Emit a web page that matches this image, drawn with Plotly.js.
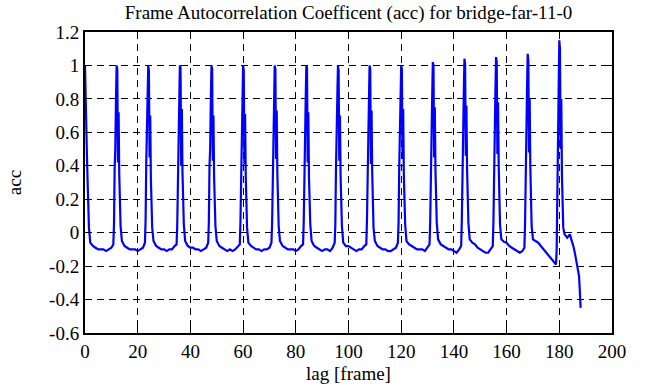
<!DOCTYPE html>
<html>
<head>
<meta charset="utf-8">
<script src="https://cdn.plot.ly/plotly-3.0.1.min.js"></script>
<style>html,body{margin:0;padding:0;background:#fff;}#chart{width:651px;height:387px;}</style>
</head>
<body>
<div id="chart"></div>
<script>
// lag [frame]
var lag = [
  0,0.25,0.5,0.75,1,1.25,1.5,2,3,4,5,6,7,8,9,10,
  10.75,11,11.25,11.5,11.75,12,12.25,12.5,12.75,13,13.5,14,15,16,17,18,19,20,21,22,
  22.75,23,23.25,23.5,23.75,24,24.25,24.5,24.75,25,25.5,26,27,28,29,30,31,32,33,34,
  34.75,35,35.25,35.5,35.75,36,36.25,36.5,36.75,37,37.5,38,39,40,41,42,43,44,45,46,
  46.75,47,47.25,47.5,47.75,48,48.25,48.5,48.75,49,49.5,50,51,52,53,54,55,56,57,58,
  58.75,59,59.25,59.5,59.75,60,60.25,60.5,60.75,61,61.5,62,63,64,65,66,67,68,69,70,
  70.75,71,71.25,71.5,71.75,72,72.25,72.5,72.75,73,73.5,74,75,76,77,78,79,80,81,82,
  82.75,83,83.25,83.5,83.75,84,84.25,84.5,84.75,85,85.5,86,87,88,89,90,91,92,93,94,
  94.75,95,95.25,95.5,95.75,96,96.25,96.5,96.75,97,97.5,98,99,100,101,102,103,104,105,106,
  106.75,107,107.25,107.5,107.75,108,108.25,108.5,108.75,109,109.5,110,111,112,113,114,115,116,117,118,
  118.75,119,119.25,119.5,119.75,120,120.25,120.5,120.75,121,121.5,122,123,124,125,126,127,128,129,130,
  130.75,131,131.25,131.5,131.75,132,132.25,132.5,132.75,133,133.5,134,135,136,137,138,139,140,141,142,
  142.75,143,143.25,143.5,143.75,144,144.25,144.5,144.75,145,145.5,146,147,148,149,150,151,152,153,154,
  154.75,155,155.25,155.5,155.75,156,156.25,156.5,156.75,157,157.5,158,159,160,161,162,163,164,165,166,
  166.75,167,167.25,167.5,167.75,168,168.25,168.5,168.75,169,169.5,170,171,172,173,174,175,176,177,178,
  178.75,179,179.25,179.5,179.75,180,180.25,180.5,180.75,181,181.5,182,183,184,185,185.5,186,186.5,187,187.5,187.8,188.1
];
// autocorrelation coefficient
var acc = [
  1.0,0.75,0.6,0.45,0.3,0.15,0.03,-0.06,-0.08,-0.09,-0.1,-0.1,-0.1,-0.11,-0.1,-0.09,
  -0.07,0.05,0.38,0.5,0.78,1.0,0.98,0.42,0.72,0.35,0.04,-0.05,-0.08,-0.09,-0.1,-0.1,-0.1,-0.11,-0.1,-0.09,
  -0.06,0.08,0.42,0.55,0.8,1.0,0.97,0.45,0.7,0.32,0.03,-0.05,-0.08,-0.09,-0.1,-0.1,-0.11,-0.1,-0.1,-0.08,
  -0.07,0.04,0.36,0.52,0.76,1.0,0.99,0.4,0.74,0.36,0.05,-0.05,-0.08,-0.09,-0.09,-0.1,-0.1,-0.11,-0.1,-0.09,
  -0.06,0.06,0.4,0.5,0.79,1.0,0.98,0.43,0.7,0.33,0.04,-0.05,-0.08,-0.09,-0.1,-0.11,-0.1,-0.11,-0.1,-0.08,
  -0.07,0.07,0.39,0.53,0.8,1.0,0.97,0.41,0.71,0.34,0.03,-0.06,-0.08,-0.09,-0.1,-0.1,-0.11,-0.1,-0.1,-0.09,
  -0.06,0.05,0.37,0.51,0.77,1.0,0.98,0.44,0.73,0.35,0.04,-0.05,-0.08,-0.09,-0.1,-0.1,-0.1,-0.11,-0.1,-0.08,
  -0.07,0.06,0.41,0.54,0.79,1.0,0.99,0.42,0.72,0.33,0.05,-0.05,-0.08,-0.09,-0.1,-0.11,-0.1,-0.1,-0.11,-0.09,
  -0.06,0.05,0.38,0.52,0.8,1.0,0.97,0.43,0.7,0.34,0.04,-0.06,-0.08,-0.08,-0.09,-0.1,-0.11,-0.1,-0.1,-0.08,
  -0.07,0.07,0.4,0.5,0.78,1.0,0.98,0.41,0.73,0.36,0.03,-0.05,-0.08,-0.09,-0.1,-0.1,-0.11,-0.11,-0.1,-0.09,
  -0.06,0.06,0.39,0.55,0.81,1.0,0.98,0.44,0.74,0.35,0.05,-0.05,-0.07,-0.08,-0.09,-0.1,-0.1,-0.1,-0.11,-0.09,
  -0.07,0.06,0.4,0.53,0.8,1.02,1.0,0.45,0.75,0.37,0.06,-0.04,-0.07,-0.08,-0.09,-0.1,-0.1,-0.11,-0.12,-0.1,
  -0.08,0.07,0.42,0.56,0.83,1.04,1.01,0.46,0.76,0.38,0.06,-0.04,-0.06,-0.07,-0.09,-0.1,-0.11,-0.12,-0.12,-0.1,
  -0.08,0.06,0.43,0.57,0.84,1.05,1.02,0.47,0.78,0.4,0.05,-0.04,-0.055,-0.06,-0.08,-0.09,-0.1,-0.11,-0.12,-0.11,
  -0.09,0.05,0.42,0.58,0.85,1.07,1.03,0.48,0.8,0.4,0.04,-0.04,-0.05,-0.06,-0.08,-0.1,-0.12,-0.14,-0.16,-0.18,
  -0.19,-0.1,0.35,0.5,0.85,1.15,1.1,0.5,0.8,0.35,0.03,-0.01,-0.03,-0.01,-0.06,-0.09,-0.13,-0.17,-0.2,-0.26,-0.35,-0.45
];
var yTickVals = [-0.6,-0.4,-0.2,0,0.2,0.4,0.6,0.8,1,1.2];
var yTickText = ["-0.6","-0.4","-0.2","0","0.2","0.4","0.6","0.8","1","1.2"];
var xTickVals = [0,20,40,60,80,100,120,140,160,180,200];
var xTickText = ["0","20","40","60","80","100","120","140","160","180","200"];

var font = "'Liberation Serif', 'Times New Roman', serif";
var trace = {
  x: lag, y: acc, type: "scatter", mode: "lines",
  line: {color: "#0000ff", width: 2.2}, hoverinfo: "skip"
};
var axisCommon = {
  showline: true, linecolor: "#000", linewidth: 2, mirror: "ticks",
  ticks: "inside", ticklen: 7, tickwidth: 1, tickcolor: "#000",
  showgrid: true, gridcolor: "#000", gridwidth: 1, griddash: "7px,5px",
  zeroline: false, tickfont: {family: font, size: 19, color: "#000"}
};
var layout = {
  width: 651, height: 387,
  margin: {l: 85, r: 39, t: 32, b: 54},
  paper_bgcolor: "#fff", plot_bgcolor: "#fff",
  showlegend: false,
  title: {text: "Frame Autocorrelation Coefficent (acc) for bridge-far-11-0",
          font: {family: font, size: 19, color: "#000"},
          x: 0.5, xref: "paper", xanchor: "center", y: 0.968, yanchor: "middle"},
  xaxis: Object.assign({}, axisCommon, {
    range: [0, 200], tickvals: xTickVals, ticktext: xTickText,
    title: {text: "lag [frame]", font: {family: font, size: 19, color: "#000"}, standoff: 6}
  }),
  yaxis: Object.assign({}, axisCommon, {
    range: [-0.6, 1.2], tickvals: yTickVals, ticktext: yTickText,
    title: {text: "acc", font: {family: font, size: 19, color: "#000"}, standoff: 22}
  })
};
Plotly.newPlot("chart", [trace], layout, {staticPlot: true, displayModeBar: false});
</script>
</body>
</html>
